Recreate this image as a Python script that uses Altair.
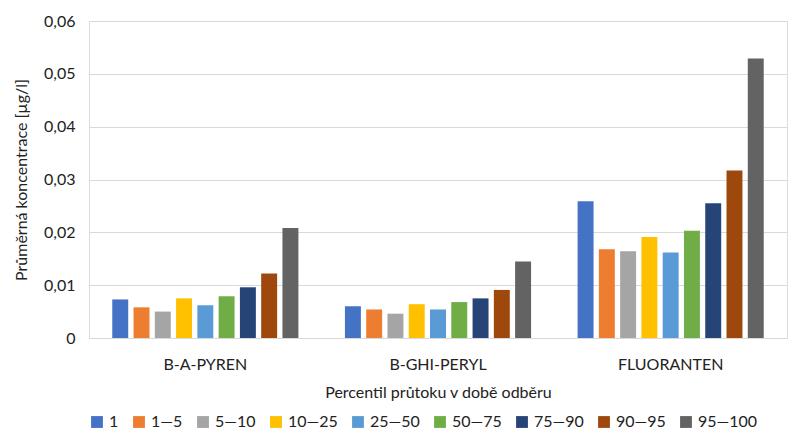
import altair as alt
import pandas as pd

latky = ["B-A-PYREN", "B-GHI-PERYL", "FLUORANTEN"]
percentily = ["1", "1—5", "5—10", "10—25", "25—50", "50—75", "75—90", "90—95", "95—100"]
barvy = ["#4472C4", "#ED7D31", "#A5A5A5", "#FFC000", "#5B9BD5",
         "#70AD47", "#264478", "#9E480E", "#636363"]

b_a_pyren = [0.0073, 0.0058, 0.0050, 0.0075, 0.0062, 0.0079, 0.0096, 0.0122, 0.0208]
b_ghi_peryl = [0.0060, 0.0054, 0.0046, 0.0064, 0.0054, 0.0068, 0.0075, 0.0091, 0.0145]
fluoranten = [0.0259, 0.0168, 0.0164, 0.0191, 0.0162, 0.0203, 0.0255, 0.0317, 0.0529]

rows = []
for latka, hodnoty in zip(latky, [b_a_pyren, b_ghi_peryl, fluoranten]):
    for p, v in zip(percentily, hodnoty):
        rows.append({"latka": latka, "percentil": p, "hodnota": v})
df = pd.DataFrame(rows)

font = "Lato"

chart = (
    alt.Chart(df)
    .mark_bar()
    .encode(
        x=alt.X("latka:N", title="Percentil průtoku v době odběru", sort=latky,
                scale=alt.Scale(paddingInner=0.2, paddingOuter=0.1),
                axis=alt.Axis(labelAngle=0, ticks=False, domainColor="#d9d9d9",
                              labelFontSize=16, titleFontSize=16,
                              labelColor="#222", titleColor="#222",
                              titleFontWeight="normal", labelPadding=18,
                              titlePadding=12)),
        xOffset=alt.XOffset("percentil:N", sort=percentily,
                            scale=alt.Scale(paddingInner=0.25)),
        y=alt.Y("hodnota:Q", title="Průměrná koncentrace [µg/l]",
                scale=alt.Scale(domain=[0, 0.06]),
                axis=alt.Axis(values=[0, 0.01, 0.02, 0.03, 0.04, 0.05, 0.06],
                              labelExpr="datum.value == 0 ? '0' : replace(format(datum.value, '.2f'), '.', ',')",
                              domain=False, ticks=False, gridColor="#d9d9d9",
                              labelFontSize=16, titleFontSize=16,
                              labelColor="#222", titleColor="#222",
                              titleFontWeight="normal", labelPadding=14,
                              titlePadding=14)),
        color=alt.Color("percentil:N", sort=percentily, title=None,
                        scale=alt.Scale(domain=percentily, range=barvy),
                        legend=alt.Legend(orient="bottom", direction="horizontal",
                                          symbolType="square", symbolSize=140,
                                          labelFontSize=16, labelColor="#222",
                                          columnPadding=12, offset=14)),
    )
    .properties(width=784, height=427,
                autosize=alt.AutoSizeParams(type="fit", contains="padding"))
    .configure_view(stroke=None)
    .configure(font=font)
)

chart.save("out.html", embed_options={"renderer": "svg", "actions": False})
